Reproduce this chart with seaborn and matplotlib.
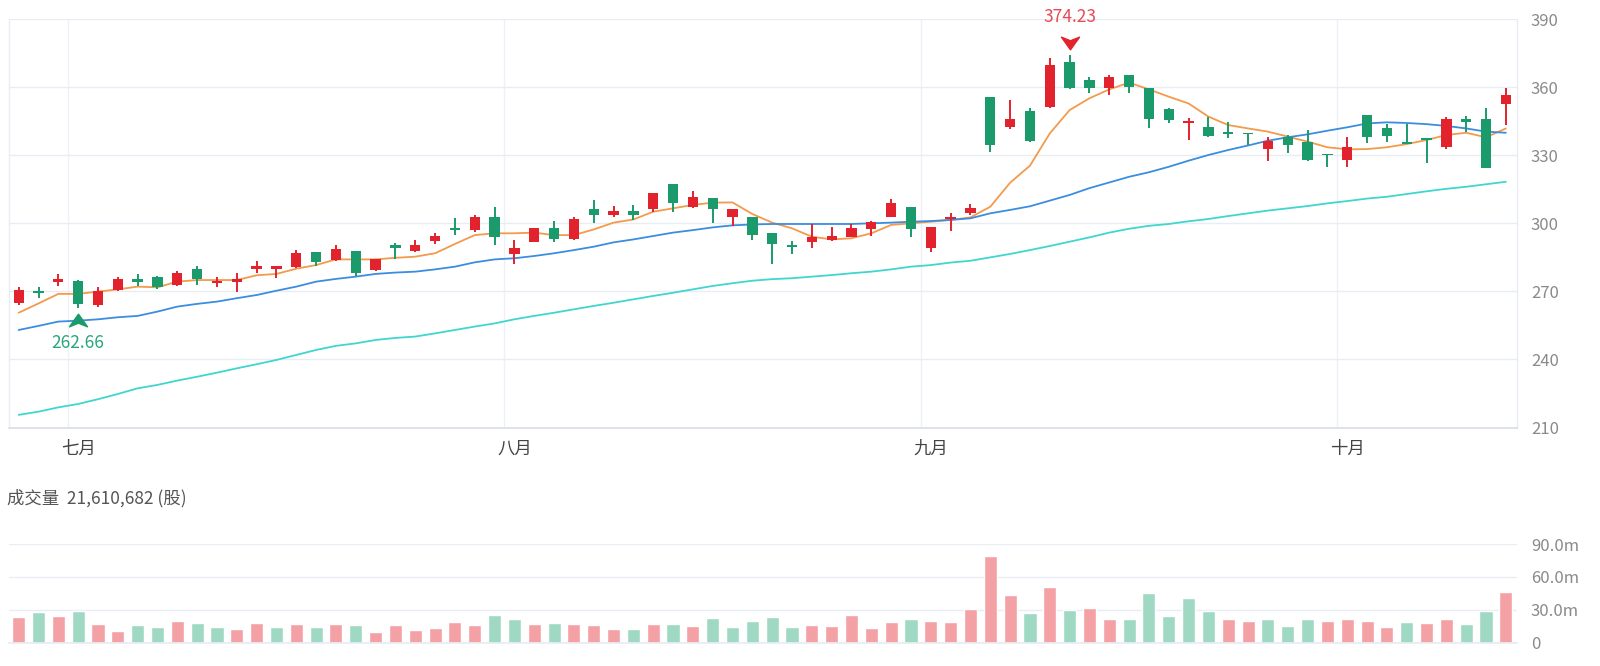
import numpy as np
import pandas as pd
import seaborn as sns
import matplotlib.pyplot as plt
import matplotlib.transforms as mtransforms
from matplotlib.path import Path

# daily candles
opens = [264.7, 270.2, 274.3, 274.6, 264.0, 270.6, 275.3, 276.5, 272.8, 280.0,
         273.8, 274.3, 280.0, 280.0, 280.9, 287.2, 283.8, 287.9, 279.4, 290.4,
         287.9, 292.3, 297.8, 297.0, 302.9, 286.5, 291.9, 297.8, 292.9, 306.3,
         303.7, 305.4, 306.2, 317.2, 307.0, 311.3, 302.6, 302.6, 295.6, 290.4,
         291.6, 292.6, 294.1, 297.3, 302.9, 307.0, 289.0, 301.7, 304.4, 355.8,
         342.3, 349.6, 351.1, 371.2, 363.1, 359.5, 365.3, 359.5, 350.2, 344.3,
         342.6, 340.4, 339.9, 332.7, 337.9, 336.0, 330.5, 327.9, 347.7, 341.8,
         336.0, 337.4, 333.8, 345.8, 345.8, 352.6]
highs = [271.8, 272.1, 277.7, 274.9, 272.1, 276.2, 277.7, 276.8, 279.1, 281.2,
         276.5, 278.3, 283.4, 281.2, 288.2, 287.2, 290.4, 288.0, 284.1, 291.5,
         292.6, 295.6, 302.2, 303.7, 307.0, 292.6, 298.1, 301.0, 302.6, 310.3,
         307.8, 308.1, 313.5, 317.2, 314.2, 311.3, 306.2, 302.6, 295.6, 292.3,
         299.7, 298.2, 299.7, 301.2, 310.7, 307.0, 298.2, 304.4, 308.5, 355.8,
         354.3, 350.6, 372.7, 374.23, 364.3, 365.3, 365.3, 359.5, 350.6, 346.2,
         347.0, 344.8, 339.9, 338.2, 338.9, 341.1, 330.5, 337.9, 347.7, 343.7,
         343.7, 337.4, 346.7, 347.3, 350.6, 359.5]
lows = [264.0, 267.2, 272.4, 262.66, 263.0, 270.3, 272.4, 271.2, 272.5, 272.8,
        271.8, 269.9, 278.3, 275.8, 280.2, 281.2, 283.5, 276.8, 279.1, 284.1,
        287.5, 290.9, 294.8, 296.3, 290.4, 282.1, 291.6, 291.6, 292.6, 300.0,
        302.9, 301.5, 305.1, 304.8, 306.6, 300.0, 298.8, 292.6, 282.1, 286.5,
        289.0, 292.3, 293.8, 294.4, 302.6, 293.8, 287.5, 296.8, 303.7, 331.6,
        341.4, 336.0, 350.6, 359.0, 357.3, 356.5, 357.3, 341.8, 344.0, 336.7,
        338.2, 337.4, 334.5, 327.6, 330.8, 327.6, 324.9, 324.6, 335.5, 336.0,
        334.9, 326.7, 332.6, 340.4, 324.2, 343.3]
closes = [270.6, 269.4, 275.3, 264.4, 270.2, 275.3, 274.1, 271.8, 278.0, 275.3,
          274.6, 275.3, 281.2, 281.0, 286.8, 283.1, 288.5, 278.3, 284.1, 289.0,
          290.4, 294.6, 297.0, 302.9, 293.8, 289.0, 297.8, 292.9, 301.9, 303.7,
          305.6, 303.7, 313.2, 309.1, 311.4, 306.3, 306.2, 294.8, 290.9, 289.4,
          294.1, 294.4, 298.1, 300.7, 308.8, 297.3, 298.2, 302.9, 306.6, 334.5,
          345.9, 336.4, 369.7, 359.5, 359.7, 364.3, 359.9, 345.9, 345.5, 345.2,
          338.6, 339.2, 339.3, 336.4, 334.5, 327.9, 329.9, 333.8, 338.2, 338.3,
          334.9, 336.7, 345.8, 344.8, 324.2, 356.5]

# moving averages
ma5 = [260.6, 264.7, 268.9, 268.9, 269.9, 270.9, 272.1, 271.8, 274.3, 275.0,
       275.0, 275.0, 277.1, 277.7, 280.0, 281.6, 284.1, 284.1, 284.1, 284.8,
       285.3, 286.8, 290.9, 294.8, 295.6, 295.6, 295.9, 294.8, 294.8, 297.3,
       300.3, 301.7, 305.1, 306.6, 308.1, 309.1, 309.2, 304.1, 300.3, 297.8,
       294.1, 292.9, 293.4, 295.6, 299.3, 300.0, 300.7, 301.5, 302.6, 307.3,
       317.9, 325.4, 339.6, 349.9, 355.1, 359.0, 362.0, 359.0, 355.8, 352.8,
       347.0, 343.3, 341.8, 340.4, 338.2, 336.0, 333.5, 332.6, 332.7, 333.5,
       334.9, 336.7, 338.9, 339.9, 337.9, 341.8]
ma20 = [253.0, 254.8, 256.7, 257.1, 257.7, 258.6, 259.2, 261.1, 263.3, 264.5,
        265.5, 267.0, 268.4, 270.3, 272.1, 274.3, 275.5, 276.5, 277.7, 278.3,
        278.7, 279.7, 280.9, 282.8, 284.1, 284.6, 285.6, 286.8, 288.2, 289.7,
        291.6, 292.9, 294.4, 295.9, 297.0, 298.2, 299.1, 299.5, 299.7, 299.7,
        299.7, 299.7, 299.7, 300.0, 300.3, 300.7, 301.0, 301.5, 302.2, 304.4,
        305.9, 307.5, 310.0, 312.5, 315.5, 318.0, 320.5, 322.5, 324.9, 327.6,
        330.1, 332.3, 334.3, 336.4, 337.9, 339.2, 340.8, 342.3, 344.0, 344.5,
        344.2, 343.7, 342.9, 341.8, 340.4, 339.9]
ma60 = [215.6, 217.0, 218.9, 220.4, 222.5, 224.8, 227.3, 228.8, 230.7, 232.4,
        234.2, 236.1, 237.9, 239.8, 242.0, 244.2, 246.0, 247.1, 248.6, 249.5,
        250.1, 251.5, 253.0, 254.5, 255.9, 257.7, 259.2, 260.6, 262.1, 263.6,
        265.0, 266.5, 268.0, 269.4, 270.9, 272.4, 273.6, 274.7, 275.4, 275.8,
        276.5, 277.2, 278.0, 278.7, 279.7, 280.9, 281.6, 282.7, 283.5, 285.0,
        286.5, 288.2, 290.0, 291.9, 293.8, 295.9, 297.6, 298.9, 299.7, 300.9,
        301.9, 303.2, 304.4, 305.6, 306.6, 307.6, 308.8, 309.8, 310.9, 311.7,
        312.9, 314.1, 315.2, 316.1, 317.2, 318.3]

# volume in millions of shares
volume = [23.6, 27.6, 24.5, 29.1, 17.3, 10.6, 16.4, 14.5, 20.0, 17.6,
          13.9, 12.1, 17.6, 14.5, 17.0, 14.5, 17.3, 15.8, 9.7, 15.8,
          11.8, 13.0, 18.8, 16.4, 25.2, 21.2, 17.0, 18.2, 17.0, 15.8,
          12.1, 12.1, 17.3, 17.0, 15.5, 22.4, 14.5, 20.0, 23.6, 14.5,
          16.1, 14.8, 25.5, 13.6, 18.8, 21.5, 19.7, 18.5, 31.2, 78.8,
          43.3, 26.7, 50.9, 29.4, 31.8, 21.5, 21.2, 45.5, 24.5, 41.2,
          28.5, 21.8, 19.7, 21.5, 15.2, 21.2, 20.0, 21.2, 20.0, 14.5,
          18.5, 18.2, 21.5, 17.3, 29.1, 46.1]

month_labels = ['七月', '八月', '九月', '十月']
month_first_day = [3, 25, 46, 67]
price_ticks = [210, 240, 270, 300, 330, 360, 390]
vol_ticks = [0, 30, 60, 90]
vol_title = '成交量  21,610,682 (股)'

df = pd.DataFrame({'day': np.arange(len(closes)), 'open': opens, 'high': highs,
                   'low': lows, 'close': closes, 'ma5': ma5, 'ma20': ma20,
                   'ma60': ma60, 'volume': volume})
df['up'] = df['close'] >= df['open']
# volume colour follows close vs previous close
df['vol_dir'] = np.where(df['close'] >= df['close'].shift(1).fillna(0), 'up', 'down')

RED, GREEN = '#e2222c', '#1b9a6b'
GRID = '#e9ecf3'
TICK = '#8a8a8a'

sns.set_theme(style='white')
plt.rcParams['font.family'] = ['Noto Sans CJK SC', 'DejaVu Sans']

fig = plt.figure(figsize=(16, 6.66), dpi=100)
ax = fig.add_axes([0.0056, 0.358, 0.9425, 0.6134])
axv = fig.add_axes([0.0056, 0.035, 0.9425, 0.148])

# --- price panel ---
colors = np.where(df['up'], RED, GREEN)
ax.vlines(df['day'], df['low'], df['high'], colors=colors, lw=1.4, zorder=3)
body = (df['close'] - df['open']).abs().clip(lower=0.4)
ax.bar(df['day'], body, bottom=df[['open', 'close']].min(axis=1), width=0.52,
       color=colors, zorder=4, linewidth=0)

for col, c in [('ma5', '#f39a4c'), ('ma20', '#3b8de0'), ('ma60', '#3fd6d0')]:
    sns.lineplot(data=df, x='day', y=col, color=c, lw=1.3, ax=ax, zorder=2)

# max / min markers
arrow = Path([(-1, 0.7), (0, 0.3), (1, 0.7), (0, -0.7), (-1, 0.7)],
             [Path.MOVETO, Path.LINETO, Path.LINETO, Path.LINETO, Path.CLOSEPOLY])
imax = int(df['high'].idxmax())
imin = int(df['low'].idxmin())
ax.plot([imax], [df['high'][imax]], marker=arrow, ms=13, color=RED, zorder=5,
        transform=mtransforms.offset_copy(ax.transData, fig=fig, y=11.5, units='dots'))
ax.plot([imin], [df['low'][imin]], marker=mtransforms.Affine2D().scale(1, -1).transform_path(arrow),
        ms=13, color=GREEN, zorder=5,
        transform=mtransforms.offset_copy(ax.transData, fig=fig, y=-11.5, units='dots'))
ax.annotate(f"{df['high'][imax]:.2f}", (imax, df['high'][imax]), xytext=(0, 38),
            textcoords='offset pixels', ha='center', va='center', color='#e84a55', fontsize=12.5)
ax.annotate(f"{df['low'][imin]:.2f}", (imin, df['low'][imin]), xytext=(0, -35),
            textcoords='offset pixels', ha='center', va='center', color='#2aa77a', fontsize=12.5)

ax.set_xlim(-0.49, 75.56)
ax.set_ylim(210, 390)
ax.set_yticks(price_ticks)
ax.yaxis.tick_right()
ax.set_xticks(month_first_day, month_labels)
ax.set_xticks([d - 0.5 for d in month_first_day], minor=True)
ax.tick_params(axis='x', which='both', length=0, pad=9, labelsize=12.5, labelcolor='#444444')
ax.tick_params(axis='y', length=0, pad=10, labelsize=12, labelcolor=TICK)
ax.grid(axis='y', color=GRID, lw=1)
ax.grid(axis='x', which='minor', color='#eef0f5', lw=1)
ax.set_xlabel('')
ax.set_ylabel('')
for s in ['left', 'right']:
    ax.spines[s].set_color(GRID)
    ax.spines[s].set_linewidth(1)
ax.spines['top'].set_visible(False)
ax.spines['bottom'].set_color('#d9dde7')
ax.spines['bottom'].set_linewidth(1.2)

# --- volume panel ---
sns.barplot(data=df, x='day', y='volume', hue='vol_dir', native_scale=True, dodge=False,
            palette={'up': '#f4a1a6', 'down': '#9fd9c4'}, width=0.66, legend=False,
            saturation=1, ax=axv)
axv.set_xlim(-0.49, 75.56)
axv.set_ylim(0, 90)
axv.set_yticks(vol_ticks, ['0' if v == 0 else f'{v:.1f}m' for v in vol_ticks])
axv.yaxis.tick_right()
axv.set_xticks([])
axv.tick_params(axis='y', length=0, pad=10, labelsize=12, labelcolor=TICK)
axv.grid(axis='y', color=GRID, lw=1)
axv.set_xlabel('')
axv.set_ylabel('')
for s in ['left', 'right', 'top']:
    axv.spines[s].set_visible(False)
axv.spines['bottom'].set_color(GRID)

fig.text(0.0044, 1 - 498 / 666, vol_title, ha='left', va='center', fontsize=12.5, color='#555555')

fig.savefig('out.png', dpi=100)
